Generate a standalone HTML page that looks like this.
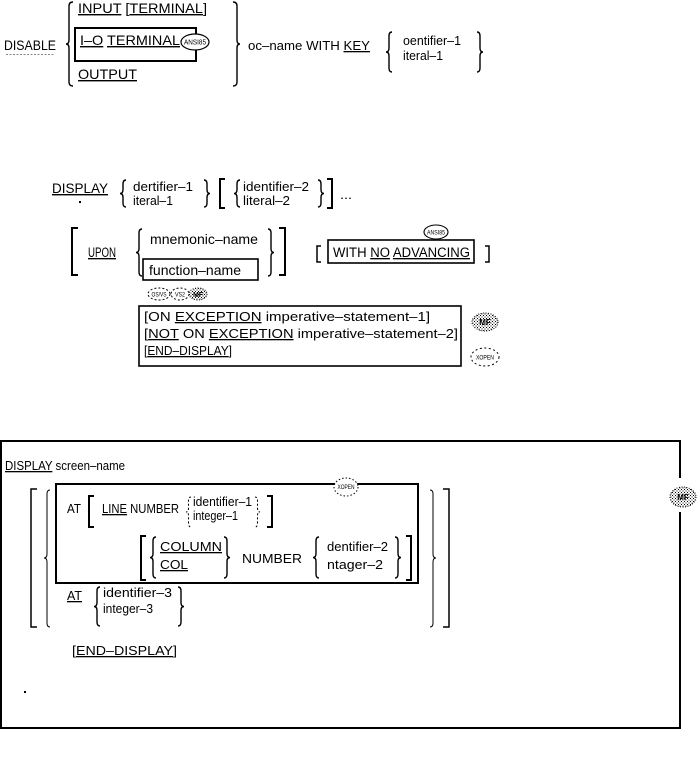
<!DOCTYPE html>
<html><head><meta charset="utf-8"><style>
html,body{margin:0;padding:0;background:#fff;}
svg{display:block}
text{font-family:"Liberation Sans",Arial,sans-serif;fill:#000}
.u{text-decoration:underline}
</style></head><body>
<svg width="698" height="784" viewBox="0 0 698 784" xmlns="http://www.w3.org/2000/svg">
<defs>
<pattern id="dots" width="3" height="3" patternUnits="userSpaceOnUse"><rect width="1" height="1" fill="#000"/><rect x="1.5" y="1.5" width="1" height="1" fill="#000"/></pattern>
</defs>
<rect width="698" height="784" fill="#fff"/>

<!-- ===== Section 1 ===== -->
<g fill="none" stroke="#000" stroke-width="1.4">
<path d="M73,2 Q69,2 69,6 L69,40 Q69,44 66,44 Q69,44 69,48 L69,82 Q69,86 73,86"/>
<path d="M233,2 Q237,2 237,6 L237,40 Q237,44 240,44 Q237,44 237,48 L237,82 Q237,86 233,86"/>
<path d="M392,32 Q389,32 389,36 L389,48 Q389,52 386,52 Q389,52 389,56 L389,68 Q389,72 392,72"/>
<path d="M477,32 Q480,32 480,36 L480,48 Q480,52 483,52 Q480,52 480,56 L480,68 Q480,72 477,72"/>
<path d="M196,34 L196,28 L75,28 L75,61 L196,61 L196,50" stroke-width="2"/>
<ellipse cx="195" cy="42" rx="14" ry="8" stroke-width="1.2" fill="#fff"/>
<line x1="6" y1="54.5" x2="55" y2="54.5" stroke="#888" stroke-width="1" stroke-dasharray="2 1.5"/>
</g>
<text x="4" y="50" font-size="13.5" textLength="52" lengthAdjust="spacingAndGlyphs">DISABLE</text>
<text x="78" y="13" font-size="14" textLength="129" lengthAdjust="spacingAndGlyphs"><tspan class="u">INPUT</tspan> [<tspan class="u">TERMINAL</tspan>]</text>
<text x="80" y="45" font-size="14" textLength="100" lengthAdjust="spacingAndGlyphs"><tspan class="u">I–O</tspan> <tspan class="u">TERMINAL</tspan></text>
<text x="195" y="44.5" font-size="7" text-anchor="middle" textLength="22" lengthAdjust="spacingAndGlyphs">ANSI85</text>
<text x="78" y="79" font-size="14" textLength="59" lengthAdjust="spacingAndGlyphs" class="u">OUTPUT</text>
<text x="248" y="50" font-size="13" textLength="122" lengthAdjust="spacingAndGlyphs">oc–name WITH <tspan class="u">KEY</tspan></text>
<text x="403" y="45" font-size="12.5" textLength="58" lengthAdjust="spacingAndGlyphs">oentifier–1</text>
<text x="403" y="60" font-size="12.5" textLength="40" lengthAdjust="spacingAndGlyphs">iteral–1</text>

<!-- ===== Section 2 ===== -->
<g fill="none" stroke="#000" stroke-width="1.4">
<path d="M126,180 Q123,180 123,184 L123,189.5 Q123,193.5 120,193.5 Q123,193.5 123,197.5 L123,203 Q123,207 126,207"/>
<path d="M204,180 Q207,180 207,184 L207,189.5 Q207,193.5 210,193.5 Q207,193.5 207,197.5 L207,203 Q207,207 204,207"/>
<path d="M225,179 L220,179 L220,208 L225,208" stroke-width="2"/>
<path d="M240,180 Q237,180 237,184 L237,189.5 Q237,193.5 234,193.5 Q237,193.5 237,197.5 L237,203 Q237,207 240,207"/>
<path d="M318,180 Q321,180 321,184 L321,189.5 Q321,193.5 324,193.5 Q321,193.5 321,197.5 L321,203 Q321,207 318,207"/>
<path d="M327,179 L332,179 L332,208 L327,208" stroke-width="2"/>

<path d="M78,228 L72,228 L72,275 L78,275" stroke-width="2"/>
<path d="M142,229 Q139,229 139,233 L139,248.5 Q139,252.5 136,252.5 Q139,252.5 139,256.5 L139,272 Q139,276 142,276"/>
<path d="M268,229 Q271,229 271,233 L271,248.5 Q271,252.5 274,252.5 Q271,252.5 271,256.5 L271,272 Q271,276 268,276"/>
<path d="M279,228 L285,228 L285,275 L279,275" stroke-width="2"/>
<path d="M321,246 L317,246 L317,262 L321,262" stroke-width="1.5"/>
<path d="M485,246 L489,246 L489,262 L485,262" stroke-width="1.5"/>
<rect x="143" y="259" width="115" height="21" stroke-width="1.6"/>
<rect x="328" y="240" width="146" height="23" stroke-width="1.6"/>
<ellipse cx="436" cy="232" rx="12" ry="7" stroke-width="1.1"/>
<ellipse cx="159" cy="294" rx="11" ry="6" stroke-width="1" stroke-dasharray="2 2"/>
<ellipse cx="180" cy="294" rx="9" ry="6" stroke-width="1" stroke-dasharray="2 2"/>
<ellipse cx="198" cy="294" rx="9" ry="6" stroke-width="1" stroke-dasharray="1 1.5" fill="url(#dots)"/>
<rect x="139" y="306" width="322" height="60" stroke-width="1.6"/>
<ellipse cx="485" cy="322" rx="13" ry="9" stroke-width="1" stroke-dasharray="1 1.5" fill="url(#dots)"/>
<ellipse cx="485" cy="357" rx="14" ry="9" stroke-width="1" stroke-dasharray="2 2.5"/>
</g>
<text x="52" y="193" font-size="14" textLength="56" lengthAdjust="spacingAndGlyphs" class="u">DISPLAY</text>
<rect x="79" y="201" width="2" height="2" fill="#000"/>
<text x="133" y="191" font-size="13" textLength="60" lengthAdjust="spacingAndGlyphs">dertifier–1</text>
<text x="133" y="205" font-size="13" textLength="40" lengthAdjust="spacingAndGlyphs">iteral–1</text>
<text x="243" y="191" font-size="13" textLength="66" lengthAdjust="spacingAndGlyphs">identifier–2</text>
<text x="243" y="205" font-size="13" textLength="47" lengthAdjust="spacingAndGlyphs">literal–2</text>
<text x="340" y="199" font-size="13" textLength="12" lengthAdjust="spacingAndGlyphs">...</text>
<text x="88" y="257" font-size="13.5" textLength="28" lengthAdjust="spacingAndGlyphs" class="u">UPON</text>
<text x="150" y="244" font-size="14" textLength="108" lengthAdjust="spacingAndGlyphs">mnemonic–name</text>
<text x="149" y="275" font-size="14" textLength="92" lengthAdjust="spacingAndGlyphs">function–name</text>
<text x="333" y="257" font-size="13.5" textLength="137" lengthAdjust="spacingAndGlyphs">WITH <tspan class="u">NO</tspan> <tspan class="u">ADVANCING</tspan></text>
<text x="436" y="234.5" font-size="6.5" text-anchor="middle" textLength="18" lengthAdjust="spacingAndGlyphs">ANSI85</text>
<text x="159" y="296.5" font-size="6" text-anchor="middle" textLength="15" lengthAdjust="spacingAndGlyphs">OS/VS</text>
<text x="180" y="296.5" font-size="6" text-anchor="middle" textLength="10" lengthAdjust="spacingAndGlyphs">VS2</text>
<text x="198" y="297" font-size="7" font-weight="bold" text-anchor="middle">MF</text>
<text x="144" y="321" font-size="13" textLength="286" lengthAdjust="spacingAndGlyphs">[ON <tspan class="u">EXCEPTION</tspan> imperative–statement–1]</text>
<text x="144" y="338" font-size="13" textLength="314" lengthAdjust="spacingAndGlyphs">[<tspan class="u">NOT</tspan> ON <tspan class="u">EXCEPTION</tspan> imperative–statement–2]</text>
<text x="144" y="355" font-size="13" textLength="88" lengthAdjust="spacingAndGlyphs">[<tspan class="u">END–DISPLAY</tspan>]</text>
<text x="485" y="325" font-size="8" font-weight="bold" text-anchor="middle">MF</text>
<text x="485" y="359.5" font-size="6" text-anchor="middle" textLength="18" lengthAdjust="spacingAndGlyphs">XOPEN</text>

<!-- ===== Section 3 ===== -->
<g fill="none" stroke="#000" stroke-width="1.4">
<path d="M680,478 L680,441 L1,441 L1,728 L680,728 L680,512" stroke-width="2"/>
<ellipse cx="683" cy="497" rx="13" ry="10" stroke-width="1" stroke-dasharray="1 1.5" fill="url(#dots)"/>
<rect x="56" y="484" width="362" height="99" stroke-width="2"/>
<ellipse cx="346" cy="487" rx="12" ry="9" stroke-width="1" stroke-dasharray="1.5 2" fill="#fff"/>
<path d="M37,489 L31,489 L31,627 L37,627" stroke-width="1.5"/>
<path d="M50,490 Q47,490 47,494 L47,554 Q47,558 44,558 Q47,558 47,562 L47,623 Q47,627 50,627" stroke-width="1"/>
<path d="M94,496 L89,496 L89,527 L94,527" stroke-width="2"/>
<path d="M191,497 Q188.5,497 188.5,501 L188.5,508 Q188.5,512 186,512 Q188.5,512 188.5,516 L188.5,523 Q188.5,527 191,527" stroke-width="1" stroke-dasharray="2 2"/>
<path d="M255,497 Q257.5,497 257.5,501 L257.5,508 Q257.5,512 260,512 Q257.5,512 257.5,516 L257.5,523 Q257.5,527 255,527" stroke-width="1" stroke-dasharray="2 2"/>
<path d="M267,496 L272,496 L272,527 L267,527" stroke-width="2"/>
<path d="M146,536 L141,536 L141,580 L146,580" stroke-width="2"/>
<path d="M156,537 Q153,537 153,541 L153,553.5 Q153,557.5 150,557.5 Q153,557.5 153,561.5 L153,574 Q153,578 156,578"/>
<path d="M224,537 Q227,537 227,541 L227,553.5 Q227,557.5 230,557.5 Q227,557.5 227,561.5 L227,574 Q227,578 224,578"/>
<path d="M319,537 Q316,537 316,541 L316,553.5 Q316,557.5 313,557.5 Q316,557.5 316,561.5 L316,574 Q316,578 319,578"/>
<path d="M395,537 Q398,537 398,541 L398,553.5 Q398,557.5 401,557.5 Q398,557.5 398,561.5 L398,574 Q398,578 395,578"/>
<path d="M406,536 L411,536 L411,580 L406,580" stroke-width="2"/>
<path d="M100,587 Q97,587 97,591 L97,602.5 Q97,606.5 94,606.5 Q97,606.5 97,610.5 L97,622 Q97,626 100,626"/>
<path d="M178,587 Q181,587 181,591 L181,602.5 Q181,606.5 184,606.5 Q181,606.5 181,610.5 L181,622 Q181,626 178,626"/>
<path d="M430,490 Q433,490 433,494 L433,554 Q433,558 436,558 Q433,558 433,562 L433,623 Q433,627 430,627" stroke-width="1"/>
<path d="M443,489 L449,489 L449,627 L443,627" stroke-width="1.5"/>
</g>
<text x="683" y="500" font-size="8" font-weight="bold" text-anchor="middle">MF</text>
<text x="346" y="489" font-size="6" text-anchor="middle" textLength="17" lengthAdjust="spacingAndGlyphs">XOPEN</text>
<text x="5" y="470" font-size="13" textLength="120" lengthAdjust="spacingAndGlyphs"><tspan class="u">DISPLAY</tspan> screen–name</text>
<text x="67" y="513" font-size="13" textLength="14" lengthAdjust="spacingAndGlyphs">AT</text>
<text x="102" y="513" font-size="13" textLength="77" lengthAdjust="spacingAndGlyphs"><tspan class="u">LINE</tspan> NUMBER</text>
<text x="193" y="506" font-size="12.5" textLength="59" lengthAdjust="spacingAndGlyphs">identifier–1</text>
<text x="193" y="520" font-size="12.5" textLength="45" lengthAdjust="spacingAndGlyphs">integer–1</text>
<text x="160" y="551" font-size="13" textLength="62" lengthAdjust="spacingAndGlyphs" class="u">COLUMN</text>
<text x="160" y="569" font-size="13" textLength="28" lengthAdjust="spacingAndGlyphs" class="u">COL</text>
<text x="242" y="563" font-size="13" textLength="60" lengthAdjust="spacingAndGlyphs">NUMBER</text>
<text x="327" y="551" font-size="13" textLength="61" lengthAdjust="spacingAndGlyphs">dentifier–2</text>
<text x="327" y="569" font-size="13" textLength="56" lengthAdjust="spacingAndGlyphs">ntager–2</text>
<text x="67" y="600" font-size="13" textLength="15" lengthAdjust="spacingAndGlyphs" class="u">AT</text>
<text x="103" y="597" font-size="13" textLength="69" lengthAdjust="spacingAndGlyphs">identifier–3</text>
<text x="103" y="613" font-size="13" textLength="50" lengthAdjust="spacingAndGlyphs">integer–3</text>
<text x="72" y="655" font-size="13" textLength="105" lengthAdjust="spacingAndGlyphs">[<tspan class="u">END–DISPLAY</tspan>]</text>
<rect x="24" y="691" width="2" height="2" fill="#000"/>
</svg>
</body></html>
